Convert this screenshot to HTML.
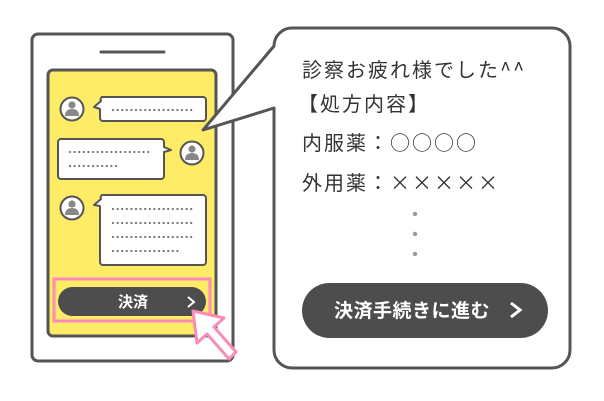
<!DOCTYPE html>
<html><head><meta charset="utf-8"><style>
html,body{margin:0;padding:0;background:#fff;}
svg{display:block;}
text{font-family:"Liberation Sans","Noto Sans CJK JP",sans-serif;}
.jp{font-family:"Noto Sans CJK JP",sans-serif;}
</style></head><body>
<svg width="604" height="401" viewBox="0 0 604 401" xmlns="http://www.w3.org/2000/svg">
<rect x="0" y="0" width="604" height="401" fill="#fff"/>
<rect x="32" y="34" width="201" height="327" rx="6" fill="#fff" stroke="#555" stroke-width="3"/>
<line x1="101" y1="52" x2="164" y2="52" stroke="#555" stroke-width="3" stroke-linecap="round"/>
<rect x="48" y="70" width="168" height="266" rx="5" fill="#ffec66" stroke="#555" stroke-width="3"/>
<g stroke="#555" stroke-width="2" fill="#fff">
<circle cx="72" cy="109" r="11.5"/>
<circle cx="192" cy="153" r="11.5"/>
<circle cx="72" cy="208" r="11.5"/>
</g>
<g fill="#888">
<circle cx="72" cy="105" r="3.6"/><path d="M65 116 Q65 109 72 109 Q79 109 79 116 Z"/>
<circle cx="192" cy="149" r="3.6"/><path d="M185 160 Q185 153 192 153 Q199 153 199 160 Z"/>
<circle cx="72" cy="204" r="3.6"/><path d="M65 215 Q65 208 72 208 Q79 208 79 215 Z"/>
</g>
<g fill="#fff" stroke="#555" stroke-width="2" stroke-linejoin="round">
<path d="M102 97 H203 a3 3 0 0 1 3 3 V118 a3 3 0 0 1 -3 3 H103 a3 3 0 0 1 -3 -3 V109 L94 107 L101 101 a3 3 0 0 1 1 -4 Z"/>
<path d="M61 139 H161 a3 3 0 0 1 3 3 V147 L171 150 L164 152 V176 a3 3 0 0 1 -3 3 H61 a3 3 0 0 1 -3 -3 V142 a3 3 0 0 1 3 -3 Z"/>
<path d="M102 195 H203 a3 3 0 0 1 3 3 V262 a3 3 0 0 1 -3 3 H103 a3 3 0 0 1 -3 -3 V206 L94 205 L101 199 a3 3 0 0 1 1 -4 Z"/>
</g>
<g stroke="#777" stroke-width="2.3" stroke-dasharray="0 4.6" stroke-linecap="round">
<line x1="113" y1="110" x2="195" y2="110"/>
<line x1="70" y1="152" x2="152" y2="152"/>
<line x1="70" y1="166" x2="117" y2="166"/>
<line x1="113" y1="209" x2="195" y2="209"/>
<line x1="113" y1="223" x2="195" y2="223"/>
<line x1="113" y1="237" x2="195" y2="237"/>
<line x1="113" y1="251" x2="178" y2="251"/>
</g>
<rect x="54" y="279" width="156" height="42" fill="none" stroke="#fb8bb8" stroke-width="3"/>
<rect x="58" y="287" width="148" height="29" rx="14.5" fill="#4d4d4d"/>
<text x="133" y="307" font-size="15" font-weight="bold" fill="#fff" text-anchor="middle">決済</text>
<path d="M188 297 L194 302 L188 307" fill="none" stroke="#fff" stroke-width="2"/>
<path d="M193 311 L224 318 L214 327 L236 352 L229 359 L207 334 L197 343 Z" fill="#fff" stroke="#fb8bb8" stroke-width="3" stroke-linejoin="round"/>
<path d="M292 28 H552 a18 18 0 0 1 18 18 V350 a18 18 0 0 1 -18 18 H292 a18 18 0 0 1 -18 -18 V108 L203 130 L274 46 a18 18 0 0 1 18 -18 Z" fill="#fff" stroke="#555" stroke-width="3" stroke-linejoin="round"/>
<g font-size="20" fill="#333" class="jp" letter-spacing="2">
<text x="302" y="77" class="jp">診察お疲れ様でした^^</text>
<text x="298" y="111" class="jp">【処方内容】</text>
<text x="302" y="150" class="jp">内服薬：○○○○</text>
<text x="302" y="190" class="jp">外用薬：×××××</text>
</g>
<g fill="#999"><circle cx="415" cy="214" r="2.2"/><circle cx="415" cy="234" r="2.2"/><circle cx="415" cy="254" r="2.2"/></g>
<rect x="302" y="283" width="246" height="55" rx="27.5" fill="#4d4d4d"/>
<text x="412" y="317" font-size="19" font-weight="bold" fill="#fff" text-anchor="middle" class="jp" letter-spacing="0.5">決済手続きに進む</text>
<path d="M511 303 L520 310 L511 317" fill="none" stroke="#fff" stroke-width="3"/>
</svg>
</body></html>
